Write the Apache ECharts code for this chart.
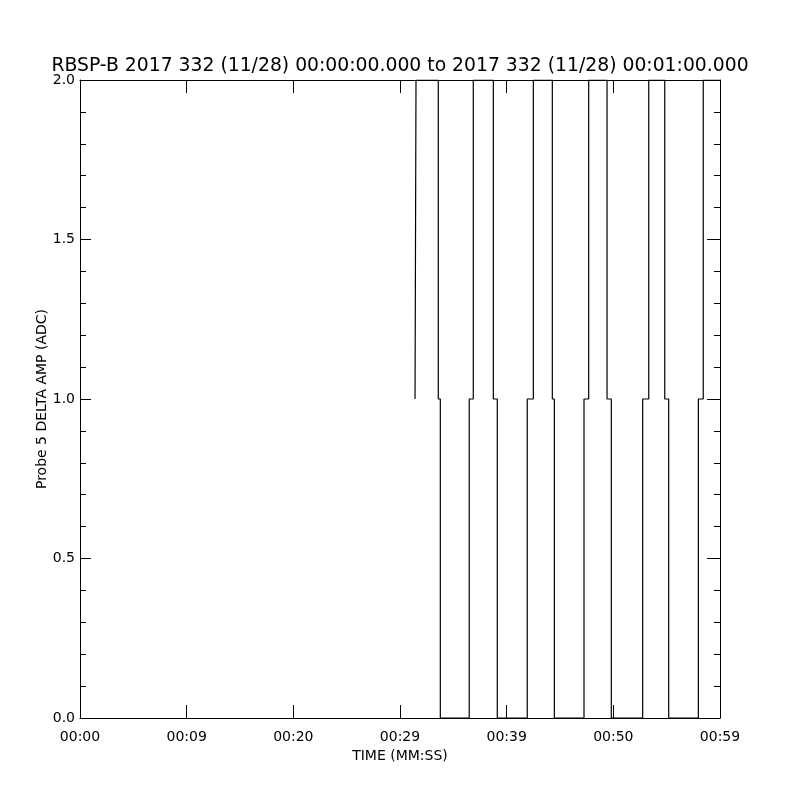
<!DOCTYPE html>
<html>
<head>
<meta charset="utf-8">
<script src="https://cdn.jsdelivr.net/npm/echarts@6/dist/echarts.min.js"></script>
<style>
html,body{margin:0;padding:0;background:#fff;}
#chart{width:800px;height:800px;}
</style>
</head>
<body>
<div id="chart"></div>
<script>
const titleText = 'RBSP-B 2017 332 (11/28) 00:00:00.000 to 2017 332 (11/28) 00:01:00.000';
const xTickLabels = ['00:00', '00:09', '00:20', '00:29', '00:39', '00:50', '00:59'];
const sampleTimes = [31.41, 31.50, 31.50, 33.59, 33.59, 33.78, 33.78, 36.49, 36.49, 36.87, 36.87,
  38.75, 38.75, 39.12, 39.12, 41.93, 41.93, 42.50, 42.50, 44.28, 44.28, 44.47, 44.47,
  47.25, 47.25, 47.69, 47.69, 49.41, 49.41, 49.81, 49.81, 52.75, 52.75, 53.32, 53.32,
  54.82, 54.82, 55.19, 55.19, 57.97, 57.97, 58.43, 58.43, 60.0];
const sampleValues = [1, 1, 2, 2, 1, 1, 0, 0, 1, 1, 2, 2, 1, 1, 0, 0, 1, 1, 2, 2, 1, 1,
  0, 0, 1, 1, 2, 2, 1, 1, 0, 0, 1, 1, 2, 2, 1, 1, 0, 0, 1, 1, 2, 2];

const font = 'DejaVu Sans';
const data = sampleTimes.map((t, i) => [t, sampleValues[i]]);
const chart = echarts.init(document.getElementById('chart'), null, {renderer: 'canvas'});
const axisLine = {show: true, onZero: false, lineStyle: {color: '#000', width: 1}};
chart.setOption({
  animation: false,
  backgroundColor: '#fff',
  title: {
    text: titleText, left: 'center', top: 52,
    textStyle: {fontFamily: font, fontSize: 18.8, fontWeight: 'normal', color: '#000'}
  },
  grid: {left: 80, right: 80, top: 80, bottom: 82, containLabel: false},
  xAxis: [{
    type: 'value', position: 'bottom', min: 0, max: 60, interval: 10,
    axisLine: axisLine,
    axisTick: {show: true, inside: true, length: 13, lineStyle: {color: '#000'}},
    splitLine: {show: false},
    axisLabel: {
      margin: 12, color: '#000', fontFamily: font, fontSize: 14,
      formatter: v => xTickLabels[Math.round(v / 10)]
    },
    name: 'TIME (MM:SS)', nameLocation: 'middle', nameGap: 31, nameMoveOverlap: false,
    nameTextStyle: {fontFamily: font, fontSize: 14, color: '#000'}
  }, {
    type: 'value', position: 'top', min: 0, max: 60, interval: 10,
    axisLine: axisLine,
    axisTick: {show: true, inside: true, length: 13, lineStyle: {color: '#000'}},
    splitLine: {show: false},
    axisLabel: {show: false}
  }],
  yAxis: [{
    type: 'value', position: 'left', min: 0, max: 2, interval: 0.5,
    axisLine: axisLine,
    axisTick: {show: true, inside: true, length: 11, lineStyle: {color: '#000'}},
    minorTick: {show: true, splitNumber: 5, length: 6, lineStyle: {color: '#000'}},
    splitLine: {show: false},
    axisLabel: {
      margin: 5, color: '#000', fontFamily: font, fontSize: 14,
      formatter: v => v.toFixed(1)
    },
    name: 'Probe 5 DELTA AMP (ADC)', nameLocation: 'middle', nameGap: 31, nameMoveOverlap: false,
    nameTextStyle: {fontFamily: font, fontSize: 14, color: '#000'}
  }, {
    type: 'value', position: 'right', min: 0, max: 2, interval: 0.5,
    axisLine: axisLine,
    axisTick: {show: true, inside: true, length: 13, lineStyle: {color: '#000'}},
    minorTick: {show: true, splitNumber: 5, length: 6, lineStyle: {color: '#000'}},
    splitLine: {show: false},
    axisLabel: {show: false}
  }],
  series: [{
    type: 'line', xAxisIndex: 0, yAxisIndex: 0,
    data: data, showSymbol: false, symbol: 'none', clip: true,
    lineStyle: {color: '#000', width: 1.2}
  }]
});
</script>
</body>
</html>
